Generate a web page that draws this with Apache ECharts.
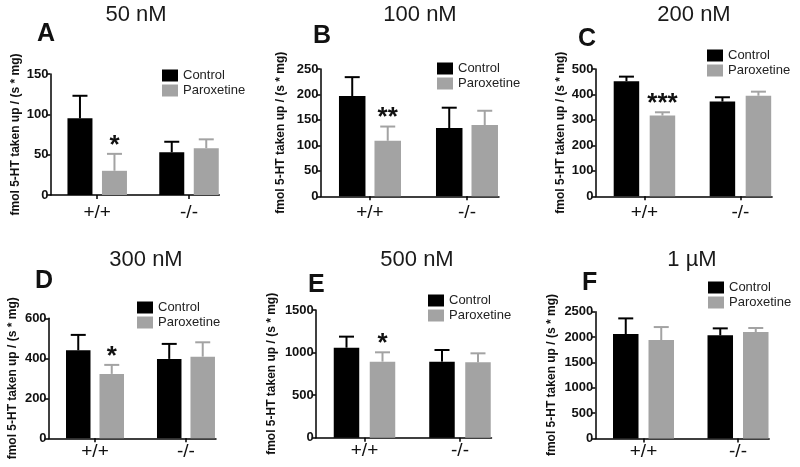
<!DOCTYPE html>
<html><head><meta charset="utf-8">
<script src="https://cdn.jsdelivr.net/npm/echarts@6/dist/echarts.min.js"></script>
<style>html,body{margin:0;padding:0;background:#fff}#main{width:800px;height:467px}</style>
</head><body><div id="main"></div>
<script>
// ---- data ----
const categories = ['+/+', '-/-'];
const seriesNames = ['Control', 'Paroxetine'];
const panelTitles = ['50 nM', '100 nM', '200 nM', '300 nM', '500 nM', '1 µM'];
const panelLetters = ['A', 'B', 'C', 'D', 'E', 'F'];
const yAxisTitle = 'fmol 5-HT taken up / (s * mg)';
const yMax = [150, 250, 500, 600, 1500, 2500];
const yInterval = [50, 50, 100, 200, 500, 500];
const controlMean = [[95, 53], [197, 134], [452, 372], [440, 397], [1057, 893], [2059, 2033]];
const controlSem = [[28, 13], [37, 40], [18, 17], [77, 75], [130, 137], [309, 138]];
const paroxMean = [[30, 58], [109, 140], [317, 395], [322, 408], [893, 885], [1941, 2099]];
const paroxSem = [[21, 11], [28, 28], [13, 16], [45, 72], [110, 106], [256, 79]];
const significance = [['*', ''], ['**', ''], ['***', ''], ['*', ''], ['*', ''], ['', '']];

// ---- layout (positions / sizes / styles) ----
const FONT = '"Liberation Sans", Arial, sans-serif';
const CONTROL_COLOR = '#000000';
const PAROX_COLOR = '#a3a3a3';
const layout = [
  {grid: {left: 50.4, top: 74, width: 168.9, height: 121}, barW: 25, gap: 9.5, nameGap: 29, labelMargin: 8, legend: [162, 69], title: [136, 14.5], letter: [37, 34.5]},
  {grid: {left: 320.5, top: 69, width: 178.5, height: 127.3}, barW: 26.5, gap: 9, nameGap: 34, labelMargin: 7, legend: [437, 62], title: [420, 14.5], letter: [313, 36.5]},
  {grid: {left: 595.5, top: 69, width: 176.6, height: 127.3}, barW: 25.5, gap: 10.5, nameGap: 29, labelMargin: 7, legend: [707, 49], title: [694, 14.5], letter: [578, 39.5]},
  {grid: {left: 48.6, top: 318.3, width: 167.4, height: 120}, barW: 24.5, gap: 9, nameGap: 30, labelMargin: 4, legend: [137, 301], title: [146, 259.5], letter: [35, 281]},
  {grid: {left: 315.8, top: 310, width: 175.7, height: 127.7}, barW: 25.5, gap: 10.5, nameGap: 38, labelMargin: 4, legend: [428, 294], title: [417, 260], letter: [308, 285]},
  {grid: {left: 595.3, top: 311.7, width: 173.9, height: 126.7}, barW: 25.5, gap: 10, nameGap: 38, labelMargin: 4, legend: [708, 281], title: [692, 259.5], letter: [582, 283]}
];
const X_MIN = 0.49, X_MAX = 2.33;

function errRender(panel, offset, color, showSig) {
  return function (params, api) {
    const x = api.value(0), m = api.value(1), t = api.value(2);
    const p0 = api.coord([x, m]);
    const p1 = api.coord([x, t]);
    const cx = p0[0] + offset;
    const cap = 7.5;
    const children = [
      {type: 'line', shape: {x1: cx, y1: p0[1], x2: cx, y2: p1[1]}, style: {stroke: color, lineWidth: 2}},
      {type: 'line', shape: {x1: cx - cap, y1: p1[1], x2: cx + cap, y2: p1[1]}, style: {stroke: color, lineWidth: 2}}
    ];
    const sig = showSig ? significance[panel][params.dataIndex] : '';
    if (sig) {
      children.push({type: 'text', style: {text: sig, x: cx, y: p1[1] - 8.5, textAlign: 'center', textVerticalAlign: 'middle',
        fontSize: 26, fontWeight: 'bold', fontFamily: FONT, fill: '#111'}});
    }
    return {type: 'group', children: children};
  };
}

const grids = [], xAxes = [], yAxes = [], legends = [], series = [], graphics = [];
layout.forEach(function (L, i) {
  grids.push(Object.assign({containLabel: false}, L.grid));
  xAxes.push({
    gridIndex: i, type: 'value', min: X_MIN, max: X_MAX,
    axisLine: {show: true, onZero: false, lineStyle: {color: '#000', width: 1.5}},
    axisTick: {show: true, customValues: [1, 2], length: 4, lineStyle: {color: '#000', width: 1.5}},
    axisLabel: {customValues: [1, 2], formatter: function (v) { return categories[Math.round(v) - 1] || ''; },
      fontSize: 19, color: '#111', margin: L.labelMargin, fontFamily: FONT},
    splitLine: {show: false}
  });
  yAxes.push({
    gridIndex: i, type: 'value', min: 0, max: yMax[i], interval: yInterval[i],
    name: yAxisTitle, nameLocation: 'middle', nameGap: L.nameGap,
    nameTextStyle: {fontSize: 12, fontWeight: 'bold', color: '#111', fontFamily: FONT},
    axisLine: {show: true, lineStyle: {color: '#000', width: 1.5}},
    axisTick: {show: true, length: 4, lineStyle: {color: '#000', width: 1.5}},
    axisLabel: {fontSize: 13, fontWeight: 'bold', color: '#111', margin: 2, fontFamily: FONT,
      formatter: function (v) { return String(v); }},
    splitLine: {show: false}
  });
  legends.push({
    orient: 'vertical', left: L.legend[0], top: L.legend[1], padding: 0,
    itemWidth: 16, itemHeight: 12, itemGap: 2, icon: 'rect', selectedMode: false,
    data: seriesNames, textStyle: {fontSize: 13, color: '#222', fontFamily: FONT}
  });
  const off = (L.barW + L.gap) / 2;
  const barGap = (L.gap / L.barW * 100).toFixed(1) + '%';
  series.push({
    type: 'bar', name: seriesNames[0], xAxisIndex: i, yAxisIndex: i, barWidth: L.barW, barGap: barGap,
    itemStyle: {color: CONTROL_COLOR}, data: categories.map(function (c, j) { return [j + 1, controlMean[i][j]]; })
  });
  series.push({
    type: 'bar', name: seriesNames[1], xAxisIndex: i, yAxisIndex: i, barWidth: L.barW, barGap: barGap,
    itemStyle: {color: PAROX_COLOR}, data: categories.map(function (c, j) { return [j + 1, paroxMean[i][j]]; })
  });
  series.push({
    type: 'custom', name: 'Control SEM', xAxisIndex: i, yAxisIndex: i, z: 5,
    renderItem: errRender(i, -off, CONTROL_COLOR, false), encode: {x: 0, y: 2},
    data: categories.map(function (c, j) { return [j + 1, controlMean[i][j], controlMean[i][j] + controlSem[i][j]]; })
  });
  series.push({
    type: 'custom', name: 'Paroxetine SEM', xAxisIndex: i, yAxisIndex: i, z: 5,
    renderItem: errRender(i, off, PAROX_COLOR, true), encode: {x: 0, y: 2},
    data: categories.map(function (c, j) { return [j + 1, paroxMean[i][j], paroxMean[i][j] + paroxSem[i][j]]; })
  });
  graphics.push({type: 'text', x: L.title[0], y: L.title[1], style: {text: panelTitles[i], textAlign: 'center', textVerticalAlign: 'middle',
    fontSize: 22, fontFamily: FONT, fill: '#1a1a1a'}});
  graphics.push({type: 'text', x: L.letter[0], y: L.letter[1], style: {text: panelLetters[i], textAlign: 'left', textVerticalAlign: 'middle',
    fontSize: 25, fontWeight: 'bold', fontFamily: FONT, fill: '#111'}});
});

const chart = echarts.init(document.getElementById('main'), null, {renderer: 'canvas'});
chart.setOption({
  animation: false,
  backgroundColor: '#fff',
  textStyle: {fontFamily: FONT},
  grid: grids, xAxis: xAxes, yAxis: yAxes, legend: legends, series: series, graphic: graphics
});
</script></body></html>
